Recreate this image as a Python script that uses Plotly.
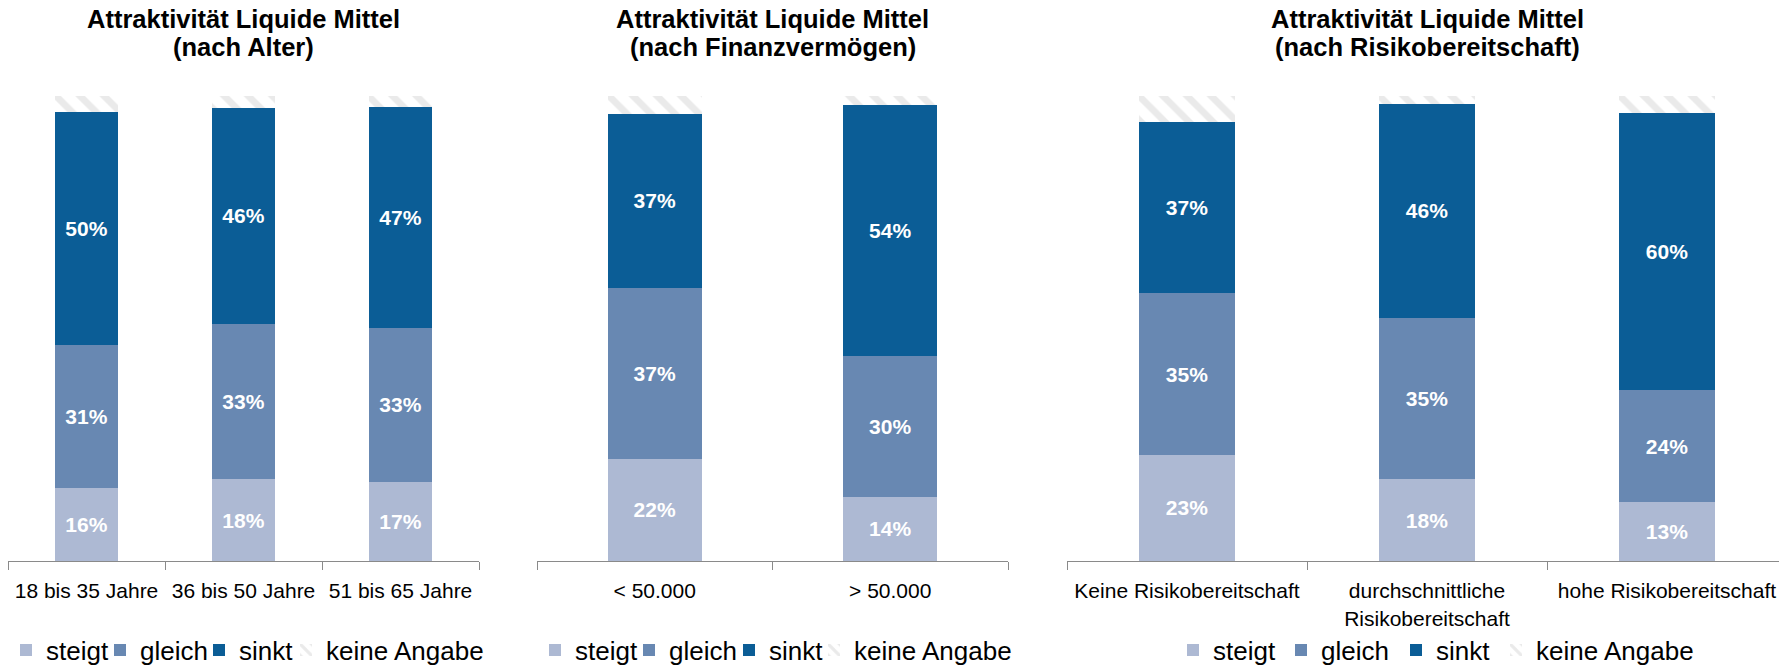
import plotly.graph_objects as go

# figure size in pixels
W, H = 1779, 668

# series names and colours
serien = ["steigt", "gleich", "sinkt", "keine Angabe"]
farben = ["#adb9d3", "#6888b2", "#0b5d96", "#ffffff"]

# panel 1: nach Alter
alter_kat = ["18 bis 35 Jahre", "36 bis 50 Jahre", "51 bis 65 Jahre"]
alter_steigt = [15.6, 17.6, 16.9]
alter_gleich = [30.8, 33.4, 33.3]
alter_sinkt = [50.1, 46.4, 47.4]
alter_keine = [3.5, 2.6, 2.4]

# panel 2: nach Finanzvermögen
verm_kat = ["< 50.000", "> 50.000"]
verm_steigt = [22.0, 13.8]
verm_gleich = [36.8, 30.2]
verm_sinkt = [37.4, 54.1]
verm_keine = [3.8, 1.9]

# panel 3: nach Risikobereitschaft
risiko_kat = ["Keine Risikobereitschaft", "durchschnittliche<br>Risikobereitschaft",
              "hohe Risikobereitschaft"]
risiko_steigt = [22.8, 17.6, 12.6]
risiko_gleich = [34.8, 34.7, 24.1]
risiko_sinkt = [36.8, 46.0, 59.6]
risiko_keine = [5.6, 1.7, 3.7]

FONT = "Liberation Sans, Arial, sans-serif"

# (categories, values, subtitle, axis start px, category width px, legend start px, legend entry widths)
panels = [
    (alter_kat, [alter_steigt, alter_gleich, alter_sinkt, alter_keine], "(nach Alter)",
     8, 157, 6, [49, 54, 42, 160]),
    (verm_kat, [verm_steigt, verm_gleich, verm_sinkt, verm_keine], "(nach Finanzvermögen)",
     537, 235.5, 535, [49, 55, 40, 160]),
    (risiko_kat, [risiko_steigt, risiko_gleich, risiko_sinkt, risiko_keine],
     "(nach Risikobereitschaft)", 1067, 240, 1173, [63, 70, 55, 160]),
]

y_dom = [1 - 561 / H, 1 - 96 / H]

fig = go.Figure()
layout = dict(
    width=W, height=H,
    margin=dict(l=0, r=0, t=0, b=0, autoexpand=False),
    paper_bgcolor="white", plot_bgcolor="white",
    barmode="stack", showlegend=True,
    font=dict(family=FONT, color="black"),
    annotations=[],
)

for i, (kat, werte, untertitel, x0, cw, leg_x, leg_w) in enumerate(panels):
    n = i + 1
    sfx = "" if n == 1 else str(n)
    end = x0 + len(kat) * cw
    if end > W:
        d1 = 1.0
        r1 = -0.5 + (W - x0) / cw
    else:
        d1 = end / W
        r1 = len(kat) - 0.5
    layout["xaxis" + sfx] = dict(
        domain=[x0 / W, d1], range=[-0.5, r1], anchor="y" + sfx,
        type="category", showgrid=False, zeroline=False,
        showline=True, linecolor="#8a8a8a", linewidth=1.3,
        ticks="outside", tickson="boundaries", ticklen=8, tickcolor="#8a8a8a",
        tickwidth=1.3, tickangle=0, ticklabelstandoff=11,
        tickfont=dict(family=FONT, size=21, color="black"),
    )
    layout["yaxis" + sfx] = dict(
        domain=y_dom, range=[0, 100], anchor="x" + sfx, visible=False,
    )
    leg_name = "legend" if n == 1 else "legend" + str(n)
    layout[leg_name] = dict(
        orientation="h", x=leg_x / W, xanchor="left", y=1 - 650 / H, yanchor="middle",
        font=dict(family=FONT, size=26, color="black"), bgcolor="rgba(0,0,0,0)",
        traceorder="normal", itemwidth=30,
    )
    for j, name in enumerate(serien):
        keine = name == "keine Angabe"
        fig.add_trace(go.Bar(
            x=kat, y=werte[j], name=name, width=0.4,
            xaxis="x" + sfx, yaxis="y" + sfx, legend=leg_name,
            legendwidth=leg_w[j],
            marker=dict(
                color=farben[j], line=dict(width=0),
                pattern=dict(shape="\\", fgcolor="#d6d6d6", bgcolor="white",
                             size=17, solidity=0.4) if keine else None,
            ),
            texttemplate="" if keine else "%{y:.0f}%",
            textposition="none" if keine else "inside",
            insidetextanchor="middle", textangle=0,
            textfont=dict(family=FONT, size=21, color="white", weight="bold"),
            hoverinfo="skip",
        ))
    xc = (x0 + (x0 + len(kat) * cw)) / 2 / W
    layout["annotations"].append(dict(
        text="Attraktivität Liquide Mittel", x=xc, y=1 - 19 / H, xref="paper", yref="paper",
        xanchor="center", yanchor="middle", showarrow=False,
        font=dict(family=FONT, size=25.5, color="black", weight="bold"),
    ))
    layout["annotations"].append(dict(
        text=untertitel, x=xc, y=1 - 47 / H, xref="paper", yref="paper",
        xanchor="center", yanchor="middle", showarrow=False,
        font=dict(family=FONT, size=25.5, color="black", weight="bold"),
    ))

fig.update_layout(**layout)
# page body has a default 8px margin; remove it so the figure sits at the window corner
fig.write_html("out.html", config={"displayModeBar": False},
               post_script="document.body.style.margin='0';")
